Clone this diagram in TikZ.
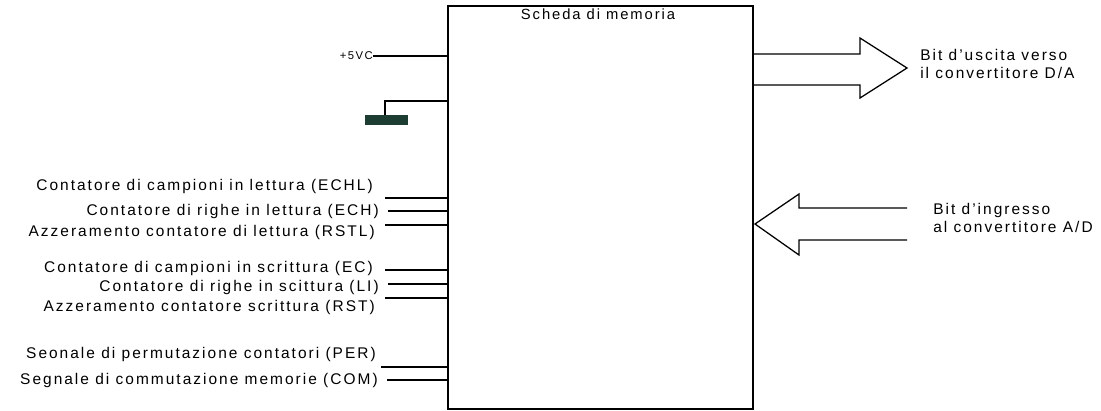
\documentclass[tikz,border=0pt]{standalone}
\usepackage{fontspec}
\setmainfont{Liberation Sans}[LetterSpace=13]
\usetikzlibrary{positioning}

\tikzset{
  lbl/.style={anchor=east, inner sep=0pt, font=\fontsize{11}{12}\selectfont},
  rlbl/.style={anchor=west, inner sep=0pt, align=left, font=\fontsize{11}{12.8}\selectfont},
  wire/.style={line width=0.9pt},
}

\begin{document}
\begin{tikzpicture}[x=0.025cm, y=-0.025cm, line join=miter]

  % Frame
  \useasboundingbox (0,0) rectangle (1101,410);

  % Memory board
  \draw[wire] (448,6) rectangle (753,409);
  \coordinate (scheda nw) at (448,6);
  \node[inner sep=0pt, font=\fontsize{10.5}{12}\selectfont] (titolo) at (598,14) {Scheda di memoria};

  % Supply and ground
  \node[inner sep=0pt, anchor=east, font=\fontsize{8}{9}\selectfont] (vcc) at (373,56) {+5VC};
  \draw[wire] (vcc.east) -- (448,56);
  \coordinate (gnd) at (385,101);
  \draw[wire] (448,101) -- (gnd) -- ++(0,14) coordinate (gnd top);
  \fill[fill={rgb,255:red,30;green,61;blue,50}] (365,115) rectangle (408,125);

  % Reading counters
  \node[lbl] (echl) at (373,186) {Contatore di campioni in lettura (ECHL)};
  \node[lbl] (ech)  at (379,211) {Contatore di righe in lettura (ECH)};
  \node[lbl] (rstl) at (375,232) {Azzeramento contatore di lettura (RSTL)};
  \coordinate (p echl) at (385,198);
  \coordinate (p ech)  at (388,211);
  \coordinate (p rstl) at (385,225);

  % Writing counters
  \node[lbl] (ec)  at (373,268) {Contatore di campioni in scrittura (EC)};
  \node[lbl] (li)  at (379,287) {Contatore di righe in scittura (LI)};
  \node[lbl] (rst) at (375,307) {Azzeramento contatore scrittura (RST)};
  \coordinate (p ec)  at (385,270);
  \coordinate (p li)  at (388,284);
  \coordinate (p rst) at (385,298);

  % Switching signals
  \node[lbl] (per) at (376,354) {Seonale di permutazione contatori (PER)};
  \node[lbl] (com) at (378,380) {Segnale di commutazione memorie (COM)};
  \coordinate (p per) at (381,367);
  \coordinate (p com) at (387,380);

  \foreach \s in {echl,ech,rstl,ec,li,rst,per,com}
    \draw[wire] (p \s) -- (p \s -| scheda nw);

  % Output bus
  \draw[wire] (753,54) -- (860,54) -- (860,38) -- (907,68) coordinate (out tip)
    -- (860,98) -- (860,85) -- (753,85);
  \node[rlbl] (uscita) at (920,64) {Bit d'uscita verso\\il convertitore D/A};

  % Input bus
  \draw[wire] (907,208) -- (799,208) -- (799,194) -- (755,224) coordinate (in tip)
    -- (799,255) -- (799,240) -- (907,240);
  \node[rlbl] (ingresso) at (933,218) {Bit d'ingresso\\al convertitore A/D};

\end{tikzpicture}
\end{document}
